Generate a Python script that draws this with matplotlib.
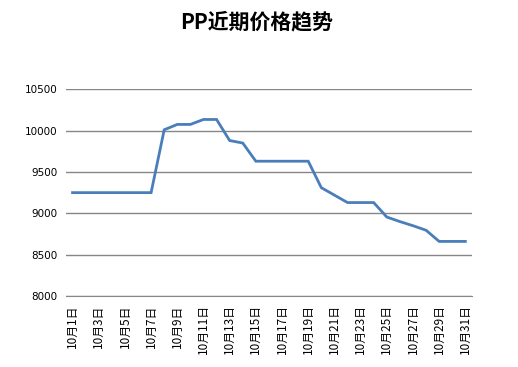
import matplotlib.pyplot as plt

plt.rcParams['font.family'] = ['Noto Sans CJK SC', 'DejaVu Sans']

# PP价格 (10月1日 - 10月31日)
days = [f"10月{d}日" for d in range(1, 32)]
prices = [9250, 9250, 9250, 9250, 9250, 9250, 9250,
          10010, 10075, 10075, 10135, 10135, 9880, 9850,
          9630, 9630, 9630, 9630, 9630,
          9310, 9220, 9130, 9130, 9130,
          8955, 8900, 8850, 8795, 8660, 8660, 8660]
yticks = [8000, 8500, 9000, 9500, 10000, 10500]

fig = plt.figure(figsize=(5.18, 3.67), dpi=100)
ax = fig.add_axes([0.1274, 0.1935, 0.7836, 0.5632])

x = list(range(len(days)))
ax.plot(x, prices, color='#4A7EBB', linewidth=2.0, solid_joinstyle='miter')

ax.set_xlim(-0.5, len(days) - 0.5)
ax.set_ylim(8000, 10500)
ax.set_yticks(yticks)
ax.set_yticklabels([str(v) for v in yticks], fontsize=7.5, family='DejaVu Sans')
ax.set_xticks(x[::2])
ax.set_xticklabels(days[::2], rotation=90, fontsize=8.5, va='top')

ax.grid(axis='y', color='#868686', linewidth=1.0)
ax.set_axisbelow(True)
for s in ['top', 'right', 'left']:
    ax.spines[s].set_visible(False)
ax.spines['bottom'].set_color('#868686')
ax.tick_params(length=0, pad=6)

fig.text(0.495, 0.94, "PP近期价格趋势", ha='center', va='center',
         fontsize=15, fontweight='bold')

plt.savefig("out.png", dpi=100)
